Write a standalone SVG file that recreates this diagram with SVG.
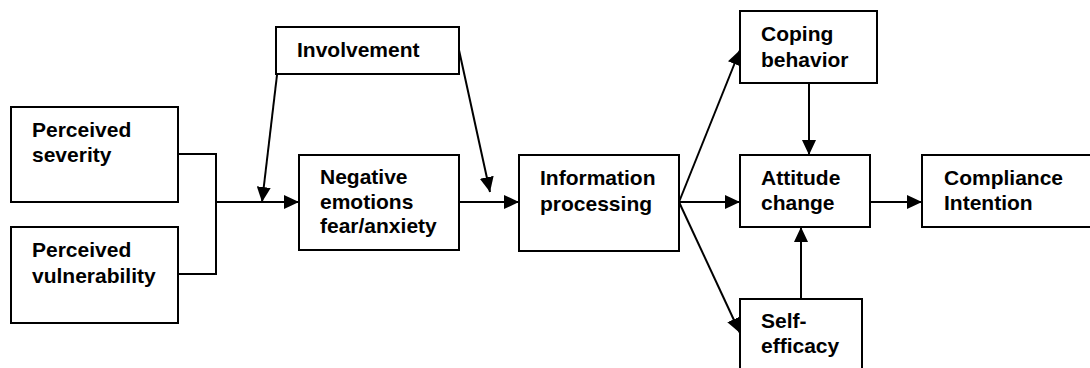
<svg xmlns="http://www.w3.org/2000/svg" width="1090" height="368" viewBox="0 0 1090 368">
<style>
.box{fill:#fff;stroke:#000;stroke-width:2}
.t{font-family:"Liberation Sans",Arial,sans-serif;font-weight:bold;font-size:21px;fill:#000}
.c{fill:none;stroke:#000;stroke-width:2}
.a{fill:none;stroke:#000;stroke-width:2;marker-end:url(#ah)}
</style>
<defs>
<marker id="ah" markerUnits="userSpaceOnUse" markerWidth="16" markerHeight="14" refX="15" refY="7" orient="auto" viewBox="0 0 16 14">
<path d="M0,0 L15,7 L0,14 z" fill="#000"/>
</marker>
</defs>
<rect width="1090" height="368" fill="#fff"/>
<g id="connectors">
<polyline class="c" points="178,154 216,154 216,274 178,274"/>
<line class="a" x1="216" y1="202" x2="299" y2="202"/>
<line class="a" x1="277" y1="75" x2="262" y2="202"/>
<line class="a" x1="459" y1="50" x2="490" y2="192"/>
<line class="a" x1="459" y1="202" x2="519" y2="202"/>
<line class="a" x1="679" y1="202" x2="740" y2="50"/>
<line class="a" x1="679" y1="202" x2="740" y2="202"/>
<line class="a" x1="679" y1="202" x2="740" y2="333"/>
<line class="a" x1="809" y1="83" x2="809" y2="155"/>
<line class="a" x1="801" y1="299" x2="801" y2="227"/>
<line class="a" x1="870" y1="202" x2="922" y2="202"/>
</g>
<g id="perceived-severity">
<rect class="box" x="11" y="107" width="167" height="95"/>
<text class="t" x="32" y="137">Perceived</text>
<text class="t" x="32" y="162">severity</text>
</g>
<g id="perceived-vulnerability">
<rect class="box" x="11" y="227" width="167" height="96"/>
<text class="t" x="32" y="257">Perceived</text>
<text class="t" x="32" y="283">vulnerability</text>
</g>
<g id="involvement">
<rect class="box" x="276" y="27" width="183" height="47"/>
<text class="t" x="297" y="57">Involvement</text>
</g>
<g id="negative-emotions">
<rect class="box" x="299" y="155" width="160" height="95"/>
<text class="t" x="320" y="184">Negative</text>
<text class="t" x="320" y="209">emotions</text>
<text class="t" x="320" y="233">fear/anxiety</text>
</g>
<g id="information-processing">
<rect class="box" x="519" y="155" width="160" height="96"/>
<text class="t" x="540" y="185">Information</text>
<text class="t" x="540" y="211">processing</text>
</g>
<g id="coping-behavior">
<rect class="box" x="740" y="11" width="137" height="72"/>
<text class="t" x="761" y="41">Coping</text>
<text class="t" x="761" y="67">behavior</text>
</g>
<g id="attitude-change">
<rect class="box" x="740" y="155" width="130" height="72"/>
<text class="t" x="761" y="185">Attitude</text>
<text class="t" x="761" y="210">change</text>
</g>
<g id="compliance-intention">
<rect class="box" x="922" y="155" width="180" height="72"/>
<text class="t" x="944" y="185">Compliance</text>
<text class="t" x="944" y="210">Intention</text>
</g>
<g id="self-efficacy">
<rect class="box" x="740" y="299" width="122" height="80"/>
<text class="t" x="761" y="328">Self-</text>
<text class="t" x="761" y="353">efficacy</text>
</g>
</svg>
